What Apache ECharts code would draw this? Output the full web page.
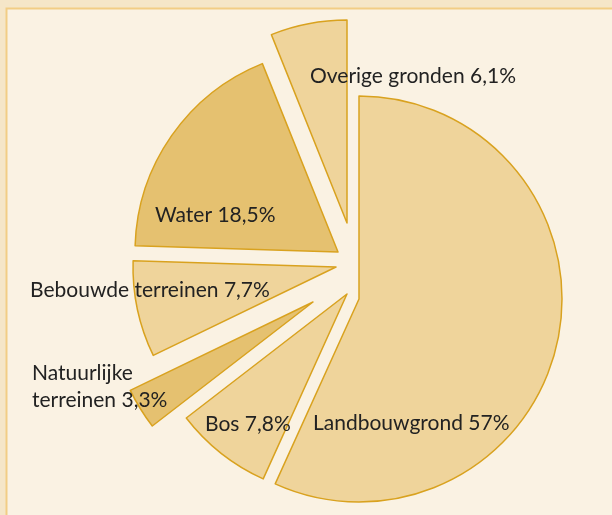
<!DOCTYPE html>
<html>
<head>
<meta charset="utf-8">
<script src="https://cdn.jsdelivr.net/npm/echarts@6/dist/echarts.min.js"></script>
<style>
  html, body { margin: 0; padding: 0; background: #f5e6c8; }
  #chart { width: 612px; height: 515px; }
</style>
</head>
<body>
<div id="chart"></div>
<script>
// grondgebruik - aandeel per categorie (%)
const categories = ['Landbouwgrond', 'Bos', 'Natuurlijke\nterreinen', 'Bebouwde terreinen', 'Water', 'Overige gronden'];
const shares = [57, 7.8, 3.3, 7.7, 18.5, 6.1];

// opmaak: elke punt krijgt een eigen middelpunt (uitgetrokken taart)
const fills = ['#efd49b', '#efd49b', '#e5c170', '#efd49b', '#e5c170', '#efd49b'];
const sliceCenters = [[359, 299], [347, 294], [313, 302], [336, 267], [338, 252], [347, 223]];
const labelSpots = [[313, 423], [205, 424], [32, 387], [30, 290], [155, 215], [310, 76]];

const fmt = v => String(v).replace('.', ',') + '%';

const chart = echarts.init(document.getElementById('chart'));

const series = categories.map((name, i) => ({
  type: 'pie',
  center: sliceCenters[i],
  radius: 203,
  startAngle: 90,
  clockwise: true,
  silent: true,
  animation: false,
  avoidLabelOverlap: false,
  label: {
    position: 'inside',
    formatter: p => p.name + ' ' + fmt(p.value),
    fontFamily: 'Lato',
    fontSize: 21,
    lineHeight: 27,
    color: '#222'
  },
  labelLine: { show: false },
  labelLayout: { x: labelSpots[i][0], y: labelSpots[i][1], align: 'left', verticalAlign: 'middle' },
  data: categories.map((n, j) => ({
    name: n,
    value: shares[j],
    itemStyle: j === i
      ? { color: fills[j], borderColor: '#d9a21f', borderWidth: 1.5 }
      : { color: 'rgba(0,0,0,0)', borderWidth: 0 },
    label: { show: j === i }
  }))
}));

chart.setOption({
  backgroundColor: '#f5e6c8',
  graphic: [{
    type: 'rect',
    z: -10,
    shape: { x: 6.5, y: 8.5, width: 640, height: 540 },
    style: { fill: '#faf2e3', stroke: '#f2cd85', lineWidth: 2 }
  }],
  series: series
});
</script>
</body>
</html>
